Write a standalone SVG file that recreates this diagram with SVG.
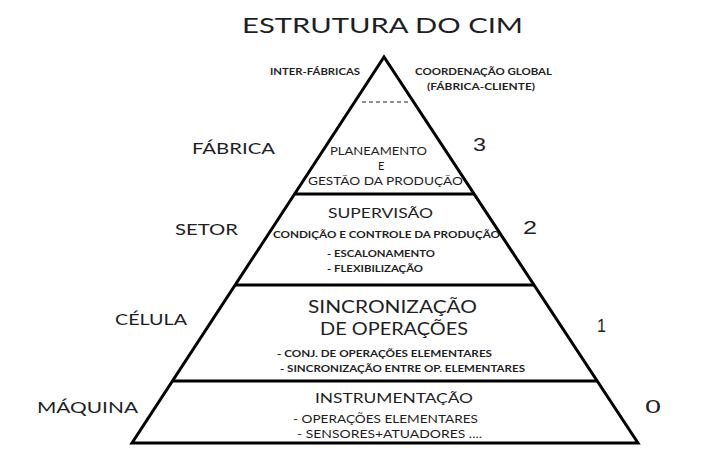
<svg xmlns="http://www.w3.org/2000/svg" width="706" height="476" viewBox="0 0 706 476">
<style>
text{font-family:Lato,"Open Sans","Liberation Sans",sans-serif;fill:#1e1e24;}
.b{font-weight:bold;}
.n{font-family:"Liberation Sans",Arial,sans-serif;font-size:18px;}
.line{stroke:#000;stroke-width:3;fill:none;stroke-linejoin:miter;}
.dash{stroke:#222;stroke-width:1.2;stroke-dasharray:4,3;fill:none;}
</style>
<rect width="706" height="476" fill="#fff"/>
<text x="242" y="33" font-size="22" textLength="281" lengthAdjust="spacingAndGlyphs">ESTRUTURA DO CIM</text>
<g id="connectors">
<polygon class="line" points="384,57 132,443 638,443"/>
<line class="dash" x1="362" y1="102" x2="410" y2="102"/>
<line class="line" x1="294.5" y1="194" x2="474" y2="194"/>
<line class="line" x1="235" y1="285" x2="534" y2="285"/>
<line class="line" x1="172" y1="381" x2="597" y2="381"/>
</g>
<g id="top">
<text class="b" x="270" y="75" font-size="9.5" textLength="90" lengthAdjust="spacingAndGlyphs">INTER-FÁBRICAS</text>
<text class="b" x="415" y="75" font-size="9.5" textLength="137" lengthAdjust="spacingAndGlyphs">COORDENAÇÃO GLOBAL</text>
<text class="b" x="427" y="90" font-size="9.5" textLength="108" lengthAdjust="spacingAndGlyphs">(FÁBRICA-CLIENTE)</text>
</g>
<g id="fabrica">
<text x="192" y="154" font-size="15.5" textLength="83" lengthAdjust="spacingAndGlyphs">FÁBRICA</text>
<text class="n" x="473" y="151" textLength="13" lengthAdjust="spacingAndGlyphs">3</text>
<text x="330" y="155" font-size="11" textLength="97" lengthAdjust="spacingAndGlyphs">PLANEAMENTO</text>
<text x="378" y="170" font-size="11">E</text>
<text x="308" y="185" font-size="11.5" textLength="155" lengthAdjust="spacingAndGlyphs">GESTÃO DA PRODUÇÃO</text>
</g>
<g id="setor">
<text x="175" y="235" font-size="15.5" textLength="63" lengthAdjust="spacingAndGlyphs">SETOR</text>
<text class="n" x="523" y="234" textLength="14" lengthAdjust="spacingAndGlyphs">2</text>
<text x="328" y="218" font-size="14" textLength="105" lengthAdjust="spacingAndGlyphs">SUPERVISÃO</text>
<text class="b" x="273" y="238" font-size="9.5" textLength="227" lengthAdjust="spacingAndGlyphs">CONDIÇÃO E CONTROLE DA PRODUÇÃO</text>
<text class="b" x="327" y="257" font-size="9.5" textLength="108" lengthAdjust="spacingAndGlyphs">- ESCALONAMENTO</text>
<text class="b" x="327" y="272" font-size="9.5" textLength="96" lengthAdjust="spacingAndGlyphs">- FLEXIBILIZAÇÃO</text>
</g>
<g id="celula">
<text x="115" y="325" font-size="15.5" textLength="72" lengthAdjust="spacingAndGlyphs">CÉLULA</text>
<text class="n" x="597" y="332" textLength="9" lengthAdjust="spacingAndGlyphs">1</text>
<text x="308" y="313" font-size="17.5" textLength="169" lengthAdjust="spacingAndGlyphs">SINCRONIZAÇÃO</text>
<text x="320" y="335" font-size="17.5" textLength="148" lengthAdjust="spacingAndGlyphs">DE OPERAÇÕES</text>
<text class="b" x="277" y="357" font-size="9.5" textLength="215" lengthAdjust="spacingAndGlyphs">- CONJ. DE OPERAÇÕES ELEMENTARES</text>
<text class="b" x="280" y="372" font-size="9.5" textLength="245" lengthAdjust="spacingAndGlyphs">- SINCRONIZAÇÃO ENTRE OP. ELEMENTARES</text>
</g>
<g id="maquina">
<text x="37" y="413" font-size="15.5" textLength="101" lengthAdjust="spacingAndGlyphs">MÁQUINA</text>
<text class="n" x="645" y="413" textLength="16" lengthAdjust="spacingAndGlyphs">0</text>
<text x="315" y="403" font-size="14" textLength="158" lengthAdjust="spacingAndGlyphs">INSTRUMENTAÇÃO</text>
<text x="293" y="423" font-size="11" textLength="185" lengthAdjust="spacingAndGlyphs">- OPERAÇÕES ELEMENTARES</text>
<text x="297" y="438" font-size="11" textLength="185" lengthAdjust="spacingAndGlyphs">- SENSORES+ATUADORES ....</text>
</g>
</svg>
